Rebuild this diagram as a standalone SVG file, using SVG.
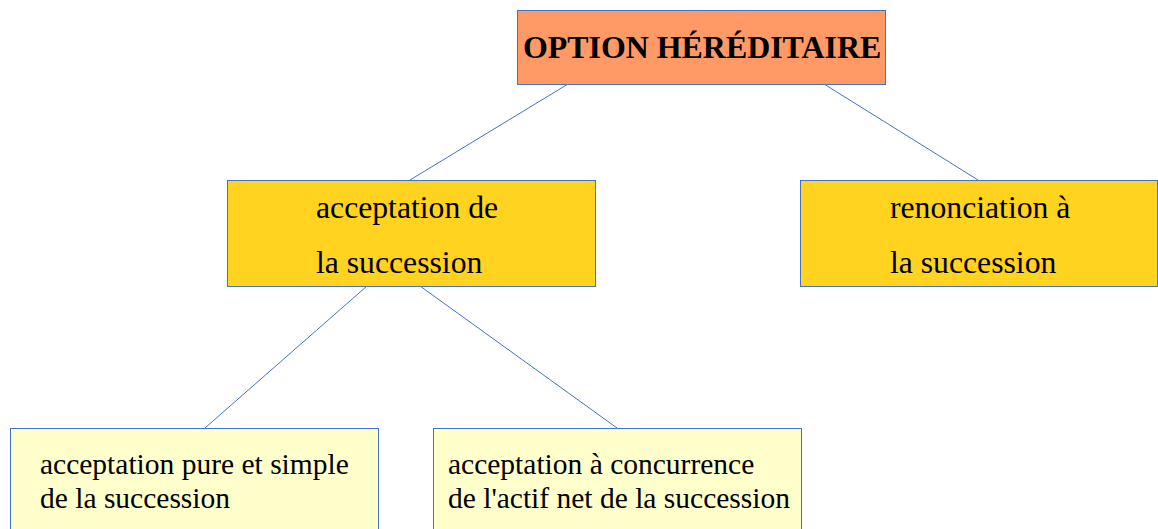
<svg xmlns="http://www.w3.org/2000/svg" width="1158" height="529" viewBox="0 0 1158 529">
<style>
.box{stroke:#4472C4;stroke-width:1}
.top{fill:#FF9966}
.mid{fill:#FFD320}
.low{fill:#FFFFCC}
.t{font-family:"Liberation Serif","Times New Roman",serif;fill:#000}
.tb{font-weight:bold;font-size:31.9px}
.tm{font-size:31.7px}
.tl{font-size:29.5px}
.conn line{stroke:#4472C4;stroke-width:1}
</style>
<rect width="1158" height="529" fill="#FFFFFF"/>
<g id="connectors" class="conn">
<line x1="568" y1="84" x2="410" y2="180"/>
<line x1="824" y1="84" x2="978" y2="180"/>
<line x1="367" y1="286" x2="205" y2="428"/>
<line x1="420" y1="286" x2="617" y2="428"/>
</g>
<g id="option">
<rect class="box top" x="517.5" y="10.5" width="368" height="74"/>
<text class="t tb" x="523" y="58">OPTION HÉRÉDITAIRE</text>
</g>
<g id="acceptation">
<rect class="box mid" x="227.5" y="180.5" width="368" height="106"/>
<text class="t tm" x="316" y="218">acceptation de</text>
<text class="t tm" x="316" y="273">la succession</text>
</g>
<g id="renonciation">
<rect class="box mid" x="800.5" y="180.5" width="357" height="106"/>
<text class="t tm" x="890" y="218">renonciation à</text>
<text class="t tm" x="890" y="273">la succession</text>
</g>
<g id="pure">
<rect class="box low" x="10.5" y="428.5" width="368" height="110"/>
<text class="t tl" x="40" y="474">acceptation pure et simple</text>
<text class="t tl" x="40" y="508">de la succession</text>
</g>
<g id="concurrence">
<rect class="box low" x="433.5" y="428.5" width="368" height="110"/>
<text class="t tl" x="448" y="474">acceptation à concurrence</text>
<text class="t tl" x="448" y="508">de l'actif net de la succession</text>
</g>
</svg>
